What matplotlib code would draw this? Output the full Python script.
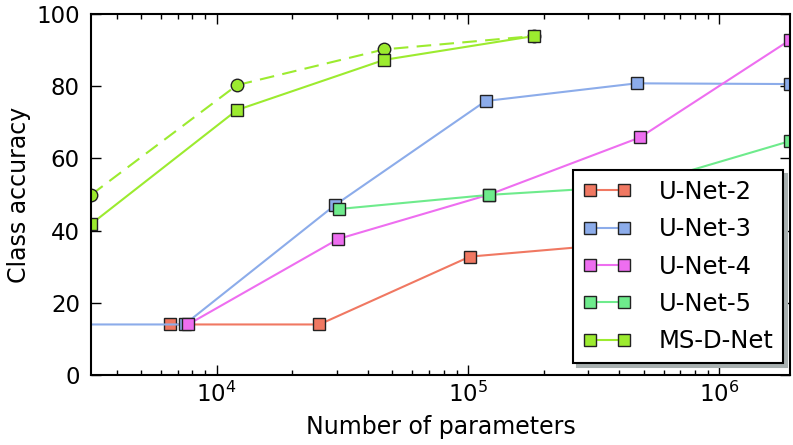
#!/usr/bin/env python3

import numpy as np
import matplotlib.pyplot as plt

# number of parameters / class accuracy
unet2_x = [6540, 25600, 101800, 475000]
unet2_y = [14.0, 14.0, 32.8, 36.8]

unet3_x = [2000, 7450, 29600, 117500, 469000, 1910000]
unet3_y = [14.0, 14.0, 47.1, 75.9, 80.8, 80.6]

unet4_x = [7690, 30500, 121600, 483000, 1910000]
unet4_y = [14.0, 37.7, 50.0, 65.8, 92.8]

unet5_x = [30800, 121600, 475000, 1910000]
unet5_y = [46.0, 49.9, 52.4, 64.8]

msd_x = [3162, 12040, 46400, 183000]
msd_y = [41.8, 73.4, 87.3, 93.9]
msd_dash_y = [49.9, 80.3, 90.2, 93.9]

series = [
    ("U-Net-2", unet2_x, unet2_y, "#f07862"),
    ("U-Net-3", unet3_x, unet3_y, "#8cacea"),
    ("U-Net-4", unet4_x, unet4_y, "#ee6ef0"),
    ("U-Net-5", unet5_x, unet5_y, "#6eeb8c"),
]
msd_color = "#9ceb2f"


def plot_data():
    plt.rcParams['font.family'] = 'DejaVu Sans'
    fig = plt.figure(figsize=(7.93, 4.45), dpi=100)
    ax = fig.add_axes([0.1148, 0.1573, 0.8814, 0.8112])

    mk = dict(marker="s", markersize=9, markeredgecolor="#222222",
              markeredgewidth=1.0, linewidth=1.5)

    for name, x, y, c in series:
        ax.plot(x, y, color=c, markerfacecolor=c, label=name, **mk)

    # dashed MS-D-Net curve with circles (not in legend)
    ax.plot(msd_x, msd_dash_y, color=msd_color, linestyle=(0, (7, 4)),
            linewidth=1.5, marker="o", markersize=9, markerfacecolor=msd_color,
            markeredgecolor="#222222", markeredgewidth=1.0, label="_nolegend_")
    ax.plot(msd_x, msd_y, color=msd_color, markerfacecolor=msd_color,
            label="MS-D-Net", **mk)

    ax.set_xscale("log")
    ax.set_xlim(3162, 1910000)
    ax.set_ylim(0, 100)
    ax.set_yticks(np.arange(0, 101, 20))

    ax.tick_params(which="both", direction="in", top=True, right=True,
                   labelsize=16.5, width=1)
    ax.tick_params(which="major", length=7)
    ax.tick_params(axis="x", which="major", pad=5)
    ax.tick_params(axis="y", which="major", pad=8)
    ax.tick_params(which="minor", length=3.5)
    ax.tick_params(axis="y", which="minor", left=False, right=False)
    for s in ax.spines.values():
        s.set_linewidth(1.5)

    ax.set_xlabel("Number of parameters", fontsize=17, labelpad=6)
    ax.set_ylabel("Class accuracy", fontsize=17)

    leg = ax.legend(loc="lower right", bbox_to_anchor=(0.99, 0.033),
                    borderaxespad=0, numpoints=2, fontsize=17.5,
                    fancybox=False, labelspacing=0.55, borderpad=0.4,
                    handletextpad=1.1, framealpha=1,
                    shadow={"ox": 3, "oy": -3, "color": "#a8b0b0", "alpha": 1})
    leg.get_frame().set_edgecolor("black")
    leg.get_frame().set_linewidth(1.5)

    fig.savefig("out.png", dpi=100)


plot_data()
